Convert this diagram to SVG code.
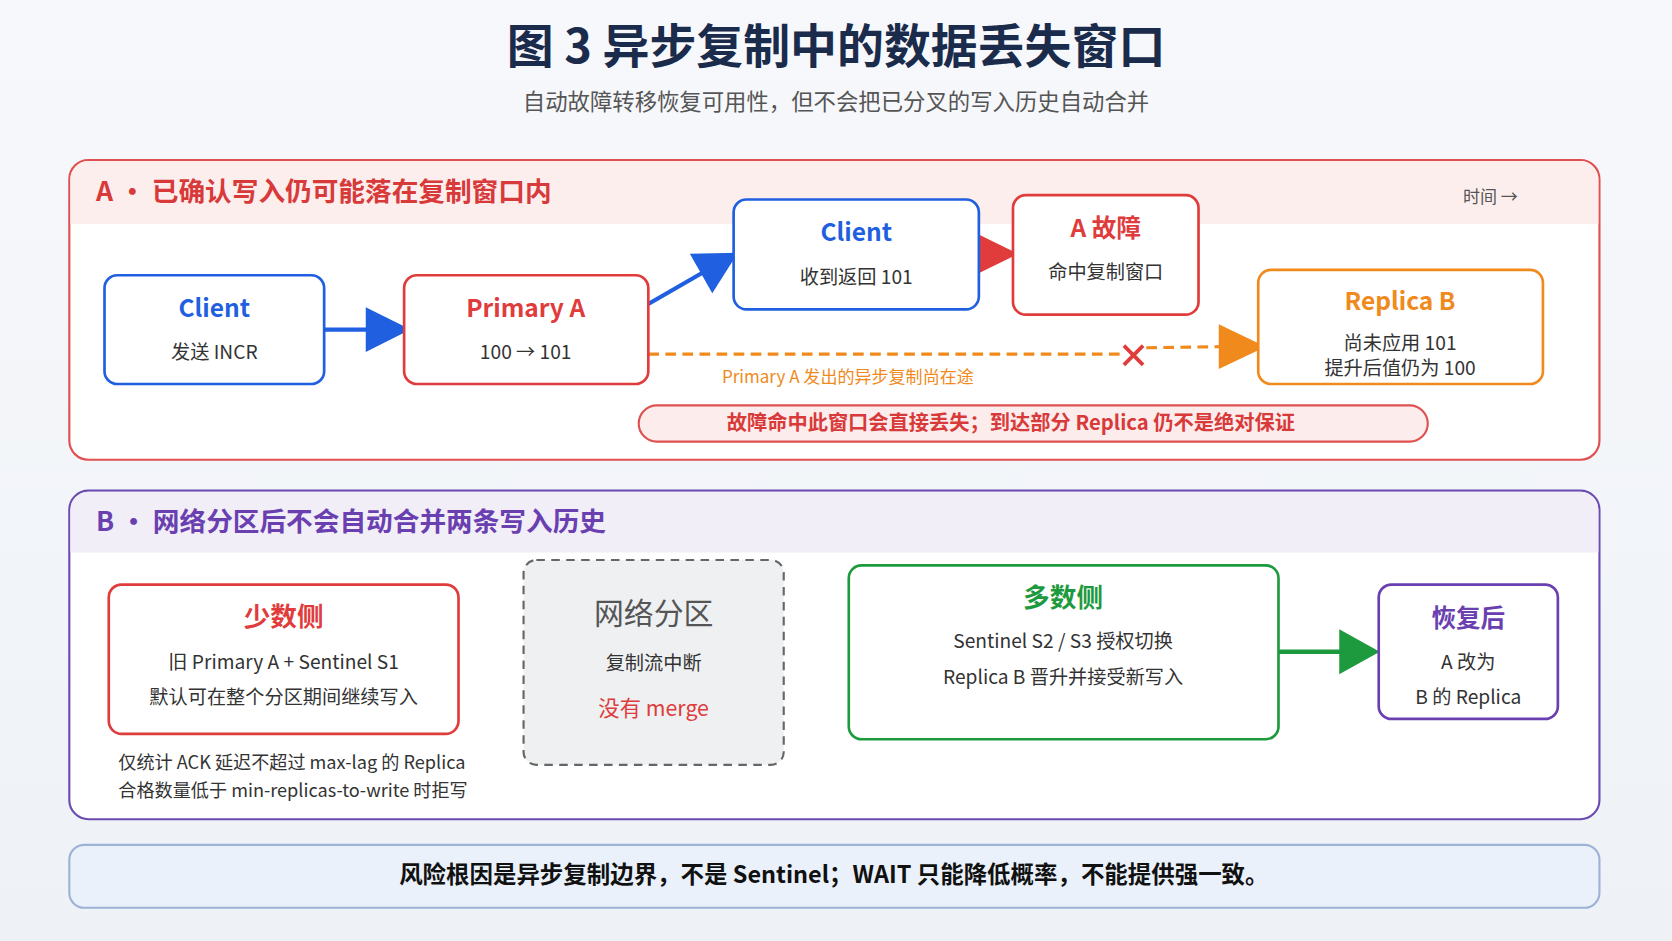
<svg xmlns="http://www.w3.org/2000/svg" width="1672" height="941" viewBox="0 0 1672 941">
<style>
text{font-family:"Noto Sans CJK SC","Noto Sans",sans-serif;text-anchor:middle;dominant-baseline:middle}
.box{fill:#fff;stroke-width:2.5}
.h{font-size:23px;font-weight:700}
.s{font-size:18px;fill:#333}
</style>
<defs>
<linearGradient id="bg" x1="0" y1="0" x2="0" y2="1"><stop offset="0" stop-color="#f7f8fb"/><stop offset="1" stop-color="#eef2f7"/></linearGradient>
</defs>
<rect width="1672" height="941" fill="url(#bg)"/>
<g transform="scale(1.0663,1.0667)">
<g id="title">
<text x="784" y="47" font-size="44" font-weight="700" fill="#1a2b4c">图 3 异步复制中的数据丢失窗口</text>
<text x="784" y="97" font-size="21" fill="#555">自动故障转移恢复可用性，但不会把已分叉的写入历史自动合并</text>
</g>
<g id="panelA">
<rect x="65" y="150" width="1435" height="281" rx="18" fill="#fff" stroke="#e05050" stroke-width="2"/>
<path d="M83,151H1482a17,17 0 0 1 17,17V210H66V168a17,17 0 0 1 17,-17z" fill="#fdeeee"/>
<text x="90" y="182" font-size="25" font-weight="700" fill="#d83a3a" style="text-anchor:start">A · 已确认写入仍可能落在复制窗口内</text>
<text x="1372" y="186" font-size="16" fill="#555" style="text-anchor:start">时间 →</text>
</g>
<g id="panelB">
<rect x="65" y="460" width="1435" height="308" rx="18" fill="#fff" stroke="#6a4bb0" stroke-width="2"/>
<path d="M83,461H1482a17,17 0 0 1 17,17V518H66V478a17,17 0 0 1 17,-17z" fill="#f1eef8"/>
<text x="90" y="491" font-size="25" font-weight="700" fill="#6a3fb0" style="text-anchor:start">B · 网络分区后不会自动合并两条写入历史</text>
</g>
<g id="connectors">
<line x1="304" y1="309" x2="345" y2="309" stroke="#1f5fe0" stroke-width="4"/>
<path d="M343,288L385,309L343,330z" fill="#1f5fe0"/>
<line x1="608" y1="285" x2="660" y2="255" stroke="#1f5fe0" stroke-width="4"/>
<path d="M647,238L692,237L668,275z" fill="#1f5fe0"/>
<path d="M914,218L955,238L914,258z" fill="#e03c3c"/>
<path d="M608,332L1050,332" stroke="#f08a1c" stroke-width="3" stroke-dasharray="10,6" fill="none"/>
<path d="M1075,326L1145,325" stroke="#f08a1c" stroke-width="3" stroke-dasharray="10,6" fill="none"/>
<path d="M1054,324L1072,342M1072,324L1054,342" stroke="#e03c3c" stroke-width="3.5"/>
<path d="M1143,304L1187,325L1143,346z" fill="#f08a1c"/>
<line x1="1199" y1="611" x2="1258" y2="611" stroke="#1e9a3e" stroke-width="4"/>
<path d="M1256,590L1294,611L1256,632z" fill="#1e9a3e"/>
</g>
<g id="client1"><rect class="box" x="98" y="258" width="206" height="102" rx="12" stroke="#1f5fe0"/><text class="h" x="201" y="291" fill="#1f5fe0">Client</text><text class="s" x="201" y="332">发送 INCR</text></g>
<g id="primaryA"><rect class="box" x="379" y="258" width="229" height="102" rx="12" stroke="#e03c3c"/><text class="h" x="493" y="291" fill="#e03c3c">Primary A</text><text class="s" x="493" y="332">100 → 101</text></g>
<g id="client2"><rect class="box" x="688" y="187" width="230" height="103" rx="12" stroke="#1f5fe0"/><text class="h" x="803" y="220" fill="#1f5fe0">Client</text><text class="s" x="803" y="261">收到返回 101</text></g>
<g id="fault"><rect class="box" x="950" y="183" width="174" height="112" rx="12" stroke="#e03c3c"/><text class="h" x="1037" y="216" fill="#e03c3c">A 故障</text><text class="s" x="1037" y="257" font-size="17">命中复制窗口</text></g>
<g id="replicaB"><rect class="box" x="1180" y="253" width="267" height="107" rx="12" stroke="#f08a1c"/><text class="h" x="1313" y="284" fill="#f08a1c">Replica B</text><text class="s" x="1313" y="323" font-size="15">尚未应用 101</text><text class="s" x="1313" y="347" font-size="15">提升后值仍为 100</text></g>
<text x="677" y="355" font-size="16" fill="#f08a1c" style="text-anchor:start">Primary A 发出的异步复制尚在途</text>
<g id="pill"><rect x="599" y="380" width="740" height="34" rx="17" fill="#fdecec" stroke="#e05050" stroke-width="2"/><text x="948" y="398" font-size="19" font-weight="700" fill="#d83a3a">故障命中此窗口会直接丢失；到达部分 Replica 仍不是绝对保证</text></g>
<g id="minority"><rect class="box" x="102" y="548" width="328" height="140" rx="12" stroke="#e03c3c"/><text x="266" y="580" font-size="25" font-weight="700" fill="#e03c3c">少数侧</text><text class="s" x="266" y="622" font-size="19">旧 Primary A + Sentinel S1</text><text class="s" x="266" y="655" font-size="19">默认可在整个分区期间继续写入</text></g>
<g id="note"><text x="111" y="716" font-size="17" fill="#333" style="text-anchor:start">仅统计 ACK 延迟不超过 max-lag 的 Replica</text><text x="111" y="743" font-size="17" fill="#333" style="text-anchor:start">合格数量低于 min-replicas-to-write 时拒写</text></g>
<g id="partition"><rect x="491" y="525" width="244" height="192" rx="12" fill="#eef0f2" stroke="#666" stroke-width="2" stroke-dasharray="8,6"/><text x="613" y="577" font-size="28" fill="#555">网络分区</text><text class="s" x="613" y="623" font-size="19">复制流中断</text><text x="613" y="666" font-size="20" fill="#e03c3c">没有 merge</text></g>
<g id="majority"><rect class="box" x="796" y="530" width="403" height="163" rx="12" stroke="#1e9a3e"/><text x="997" y="562" font-size="25" font-weight="700" fill="#1e9a3e">多数侧</text><text class="s" x="997" y="603" font-size="19">Sentinel S2 / S3 授权切换</text><text class="s" x="997" y="636" font-size="19">Replica B 晋升并接受新写入</text></g>
<g id="recovered"><rect class="box" x="1293" y="548" width="168" height="126" rx="12" stroke="#6a3fb0"/><text class="h" x="1377" y="582" fill="#6a3fb0">恢复后</text><text class="s" x="1377" y="622">A 改为</text><text class="s" x="1377" y="655">B 的 Replica</text></g>
<g id="footer"><rect x="65" y="792" width="1435" height="59" rx="14" fill="#eaf1fb" stroke="#9db3d6" stroke-width="2"/><text x="782" y="822" font-size="22" font-weight="700" fill="#111">风险根因是异步复制边界，不是 Sentinel；WAIT 只能降低概率，不能提供强一致。</text></g>
</g>
</svg>
